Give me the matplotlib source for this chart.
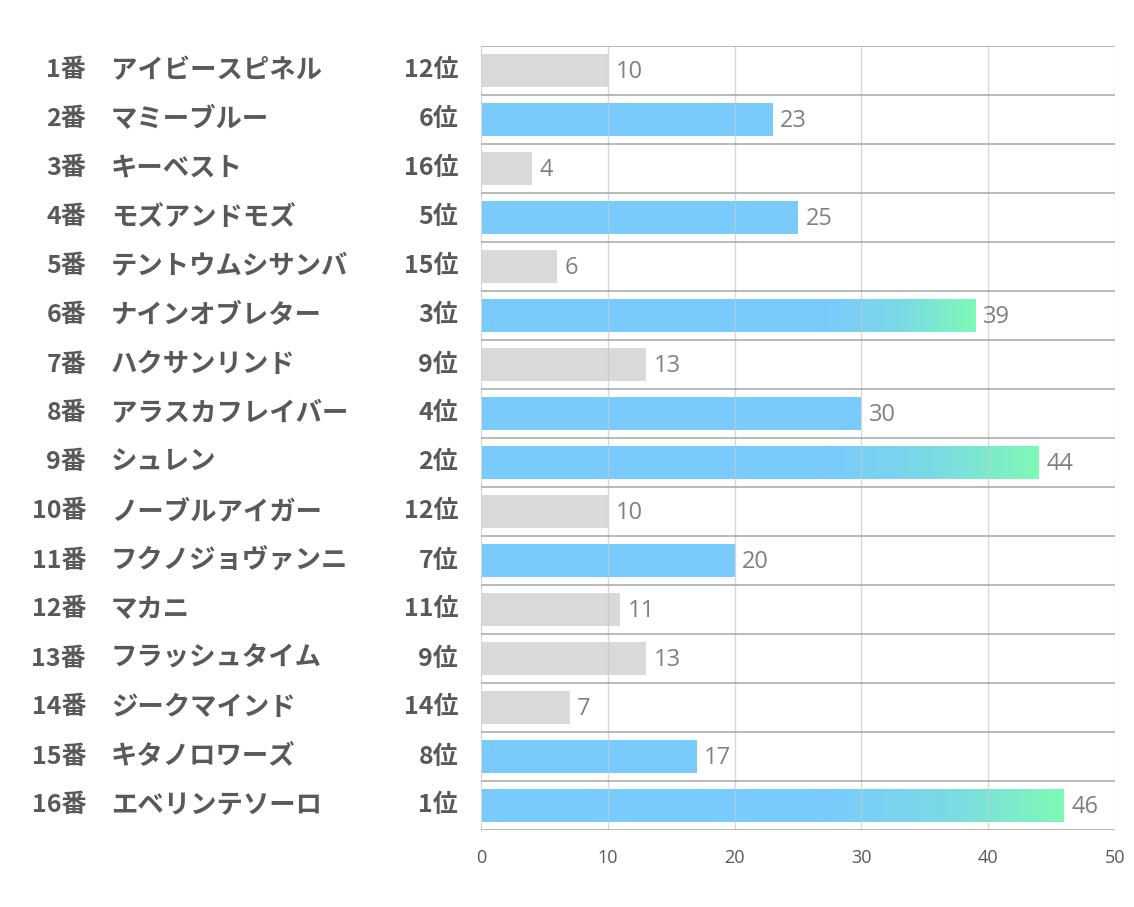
import matplotlib
matplotlib.use("Agg")
import matplotlib.pyplot as plt
import numpy as np
from matplotlib.colors import LinearSegmentedColormap

plt.rcParams['font.family'] = ['Noto Sans CJK JP', 'DejaVu Sans']

numbers = ["1番", "2番", "3番", "4番", "5番", "6番", "7番", "8番",
           "9番", "10番", "11番", "12番", "13番", "14番", "15番", "16番"]
names = ["アイビースピネル", "マミーブルー", "キーベスト", "モズアンドモズ",
         "テントウムシサンバ", "ナインオブレター", "ハクサンリンド", "アラスカフレイバー",
         "シュレン", "ノーブルアイガー", "フクノジョヴァンニ", "マカニ",
         "フラッシュタイム", "ジークマインド", "キタノロワーズ", "エベリンテソーロ"]
ranks = [12, 6, 16, 5, 15, 3, 9, 4, 2, 12, 7, 11, 9, 14, 8, 1]
values = [10, 23, 4, 25, 6, 39, 13, 30, 44, 10, 20, 11, 13, 7, 17, 46]
xticks = [0, 10, 20, 30, 40, 50]

GRAY = "#d9d9d9"
BLUE = "#79cafd"
GREEN = "#7ef9b6"
TEXT = "#595959"

fig = plt.figure(figsize=(11.34, 9.07), dpi=100)
ax = fig.add_axes([481/1134, 1-830/907, (1115-481)/1134, (830-46)/907])

n = len(values)
ys = np.arange(n)
h = 0.67
cmap = LinearSegmentedColormap.from_list("g", [BLUE, "#7bd9e6", GREEN])
grad = np.linspace(0, 1, 256).reshape(1, -1)

for y, v, r in zip(ys, values, ranks):
    color = BLUE if r <= 8 else GRAY
    ax.barh(y, v, height=h, color=color, zorder=2)
    if r <= 3:
        start = 27
        ax.imshow(grad, extent=[start, v, y + h/2, y - h/2], cmap=cmap,
                  aspect='auto', zorder=2.5, interpolation='bicubic')
    ax.text(v + 0.6, y + 0.03, str(v), va='center', ha='left', fontsize=17,
            color="#808080", zorder=4, family=['Open Sans', 'DejaVu Sans'])

ax.set_xlim(0, 50)
ax.set_ylim(n - 0.5, -0.5)
ax.set_xticks(xticks)
ax.set_yticks([])
for x in xticks[1:]:
    ax.axvline(x, color="#c8c8c8", lw=1, zorder=3, alpha=0.7)
for k in range(n + 1):
    ax.axhline(k - 0.5, color="#a6a6a6", lw=1.1, zorder=3)

for s in ["top", "right", "bottom"]:
    ax.spines[s].set_visible(False)
ax.spines["left"].set_color("#d4d4d4")
ax.tick_params(axis='x', length=0, labelsize=13, labelcolor=TEXT, pad=14)
for lbl in ax.get_xticklabels():
    lbl.set_family(['Open Sans', 'DejaVu Sans'])

for y, num, nm, r in zip(ys, numbers, names, ranks):
    yf = ax.transData.transform((0, y))[1]
    yfig = yf / fig.bbox.height
    fig.text(86/1134, yfig, num, ha='right', va='center', fontsize=18,
             fontweight='bold', color=TEXT)
    fig.text(111/1134, yfig, nm, ha='left', va='center', fontsize=19,
             fontweight='bold', color=TEXT)
    fig.text(458/1134, yfig, f"{r}位", ha='right', va='center', fontsize=18,
             fontweight='bold', color=TEXT)

fig.savefig("out.png", dpi=100, facecolor="white")
